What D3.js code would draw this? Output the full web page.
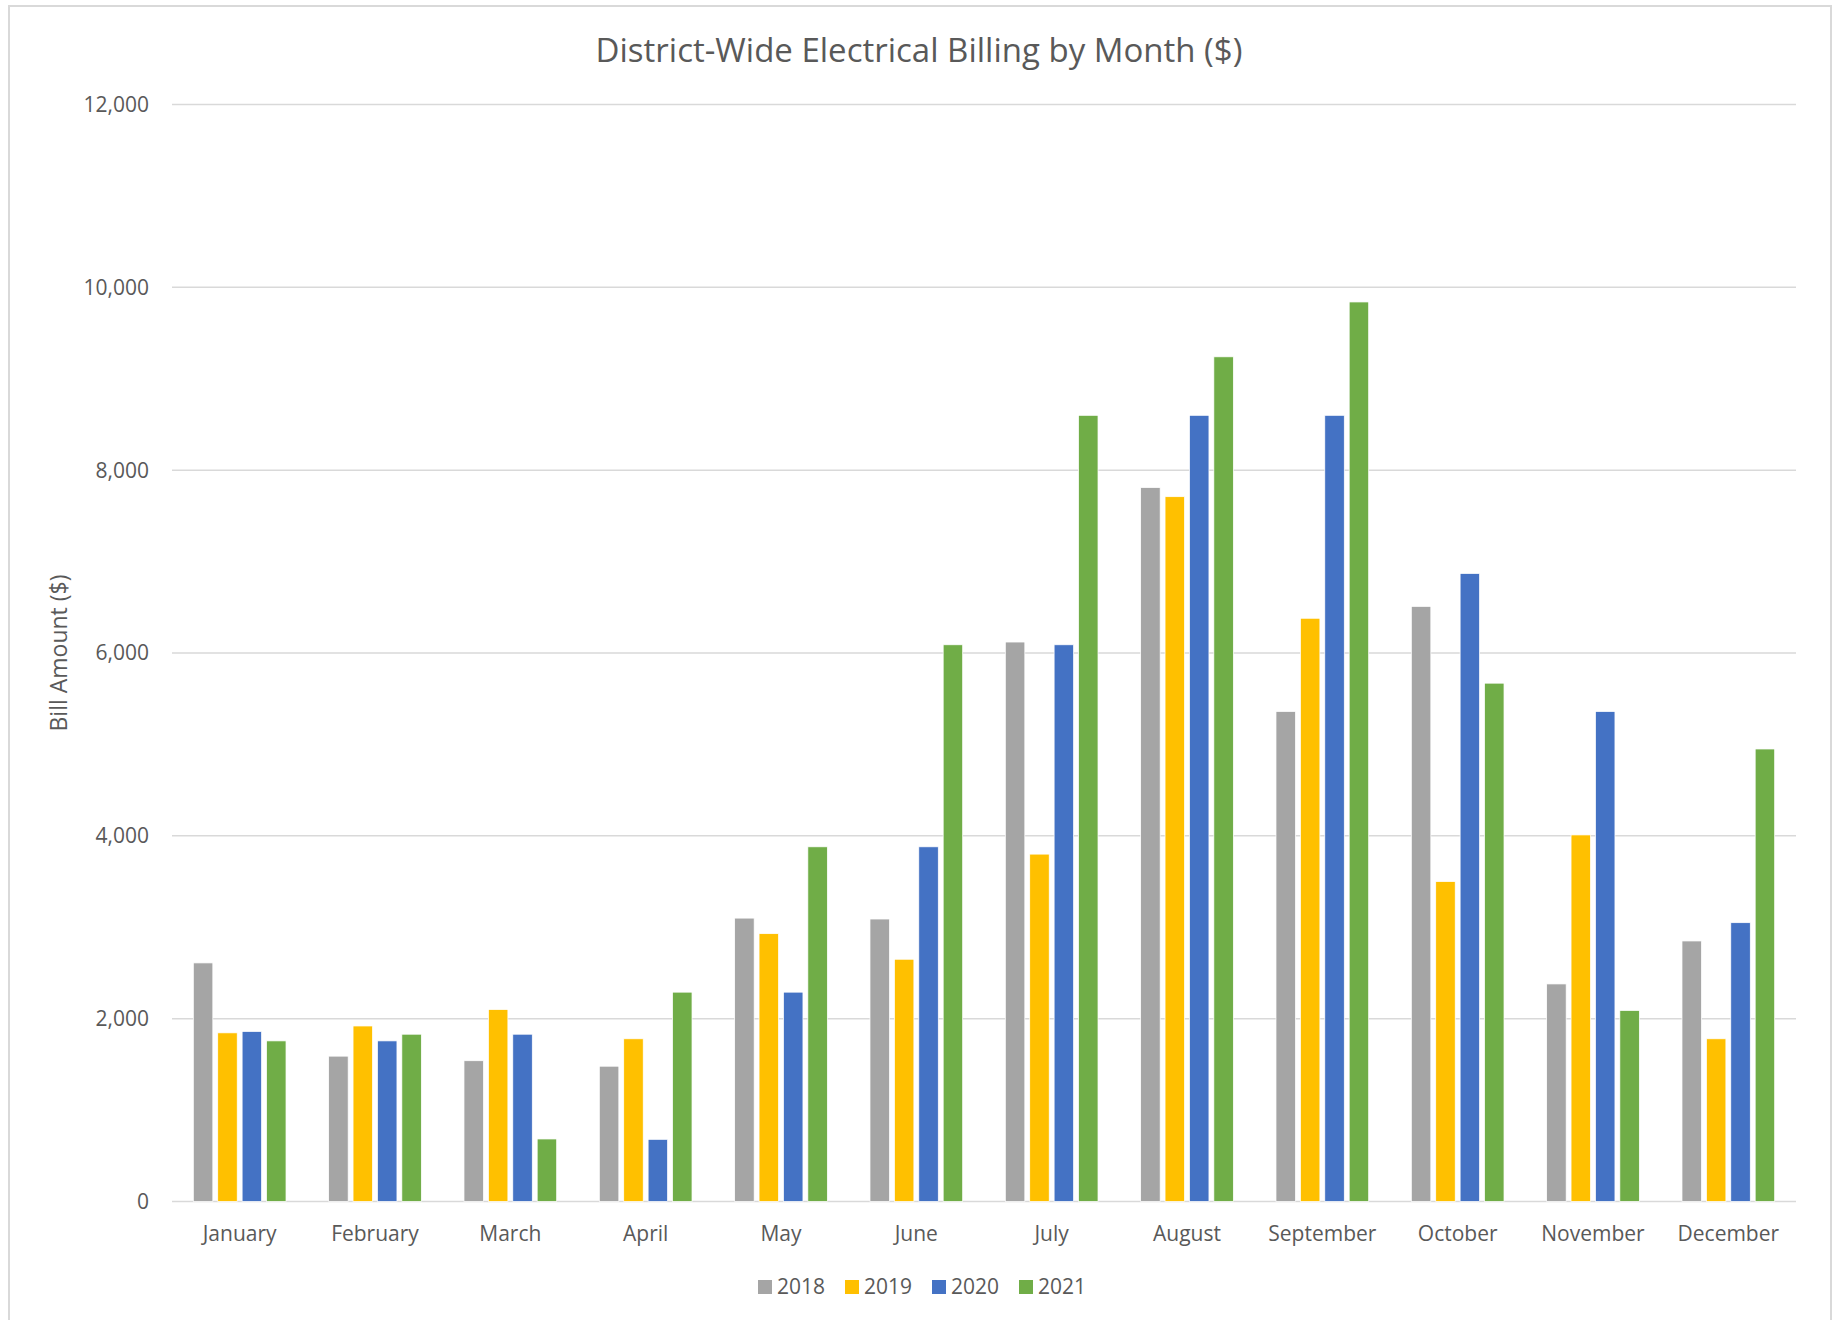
<!DOCTYPE html>
<html>
<head>
<meta charset="utf-8">
<script src="https://cdn.jsdelivr.net/npm/d3@7"></script>
<style>
  body { margin: 0; background: #fff; }
  svg { display: block; }
  text { font-family: 'Open Sans', 'Noto Sans', sans-serif; fill: #595959; }
</style>
</head>
<body>
<figure style="margin:0"></figure>
<script>
const width = 1833
const height = 1320

const months = ['January', 'February', 'March', 'April', 'May', 'June',
  'July', 'August', 'September', 'October', 'November', 'December']
const years = ['2018', '2019', '2020', '2021']
const yTicks = [0, 2000, 4000, 6000, 8000, 10000, 12000]

// bill amounts per year, one value per month
const bill2018 = [2610, 1590, 1540, 1480, 3100, 3090, 6120, 7810, 5360, 6510, 2380, 2850]
const bill2019 = [1845, 1920, 2100, 1780, 2930, 2650, 3800, 7710, 6380, 3500, 4010, 1780]
const bill2020 = [1860, 1757, 1830, 680, 2290, 3880, 6090, 8600, 8600, 6870, 5360, 3050]
const bill2021 = [1757, 1830, 684, 2290, 3880, 6090, 8600, 9240, 9840, 5670, 2090, 4950]

const colors = ['#a5a5a5', '#ffc000', '#4472c4', '#70ad47']

const series = [bill2018, bill2019, bill2020, bill2021]
const rows = months.map((m, i) => ({ month: m, values: years.map((y, j) => ({ year: y, value: series[j][i] })) }))

const plot = { left: 172, right: 1796, top: 104.5, bottom: 1201.5 }

const color = d3.scaleOrdinal().domain(years).range(colors)

const x0 = d3.scaleBand()
  .domain(months)
  .range([plot.left, plot.right])
  .paddingInner(0.315)
  .paddingOuter(0.1575)

const x1 = d3.scaleBand()
  .domain(years)
  .range([0, x0.bandwidth()])
  .paddingInner(0.2)

const y = d3.scaleLinear()
  .domain([0, 12000])
  .range([plot.bottom, plot.top])

const svg = d3.select('figure').append('svg')
  .attr('width', width)
  .attr('height', height)

// chart border
svg.append('rect')
  .attr('x', 9).attr('y', 6)
  .attr('width', 1822).attr('height', height + 10)
  .attr('fill', '#fff')
  .attr('stroke', '#d9d9d9')
  .attr('stroke-width', 2)

svg.append('text')
  .attr('x', 919)
  .attr('y', 62)
  .attr('text-anchor', 'middle')
  .style('font-size', '33px')
  .text('District-Wide Electrical Billing by Month ($)')

// gridlines + tick labels
const grid = svg.append('g')
grid.selectAll('line')
  .data(yTicks)
  .join('line')
  .attr('x1', plot.left)
  .attr('x2', plot.right)
  .attr('y1', d => y(d))
  .attr('y2', d => y(d))
  .attr('stroke', '#d9d9d9')
  .attr('stroke-width', 1.5)

grid.selectAll('text')
  .data(yTicks)
  .join('text')
  .attr('x', plot.left - 23)
  .attr('y', d => y(d))
  .attr('dy', '0.35em')
  .attr('text-anchor', 'end')
  .style('font-size', '21px')
  .text(d => d3.format(',')(d))

svg.append('text')
  .attr('transform', `translate(59,${(plot.top + plot.bottom) / 2}) rotate(-90)`)
  .attr('text-anchor', 'middle')
  .attr('dy', '0.35em')
  .style('font-size', '23px')
  .text('Bill Amount ($)')

// bars
svg.append('g')
  .selectAll('g')
  .data(rows)
  .join('g')
  .attr('transform', d => `translate(${x0(d.month)},0)`)
  .selectAll('rect')
  .data(d => d.values)
  .join('rect')
  .attr('x', d => x1(d.year))
  .attr('y', d => y(d.value))
  .attr('width', x1.bandwidth())
  .attr('height', d => y(0) - y(d.value))
  .attr('fill', d => color(d.year))
  .attr('stroke', '#fff')
  .attr('stroke-width', 0.75)

// month labels
svg.append('g')
  .selectAll('text')
  .data(months)
  .join('text')
  .attr('x', d => x0(d) + x0.bandwidth() / 2)
  .attr('y', 1241)
  .attr('text-anchor', 'middle')
  .style('font-size', '21px')
  .text(d => d)

// legend
const legendX = d3.scaleBand().domain(years).range([758, 758 + 4 * 87])
const legend = svg.append('g')
  .selectAll('g')
  .data(years)
  .join('g')
  .attr('transform', d => `translate(${legendX(d)},1280)`)

legend.append('rect')
  .attr('width', 14)
  .attr('height', 14)
  .attr('fill', d => color(d))

legend.append('text')
  .attr('x', 19)
  .attr('y', 14)
  .style('font-size', '21px')
  .text(d => d)
</script>
</body>
</html>
